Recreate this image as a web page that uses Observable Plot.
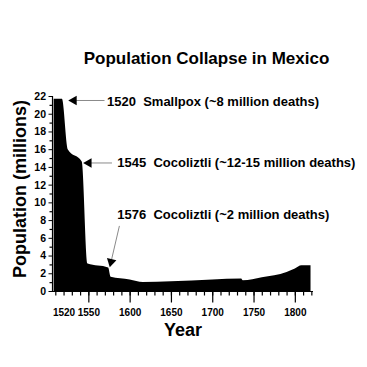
<!DOCTYPE html>
<html>
<head>
<meta charset="utf-8">
<script src="https://cdn.jsdelivr.net/npm/d3@7"></script>
<script src="https://cdn.jsdelivr.net/npm/@observablehq/plot@0.6"></script>
<style>
  html, body { margin: 0; padding: 0; background: #fff; }
  #wrap { position: relative; width: 367px; height: 367px; font-family: "Liberation Sans", Arial, sans-serif; }
  #title { position: absolute; left: 0; width: 413px; top: 49px; text-align: center; font-weight: bold; font-size: 17px; color: #000; }
  #ylab { position: absolute; left: 20px; top: 189px; transform: translate(-50%, -50%) rotate(-90deg); white-space: nowrap; font-weight: bold; font-size: 18px; color: #000; }
  #xlab { position: absolute; left: 183px; top: 330px; transform: translate(-50%, -50%); font-weight: bold; font-size: 18px; color: #000; }
  #chart { position: absolute; left: 0; top: 0; }
</style>
</head>
<body>
<div id="wrap">
  <div id="chart"></div>
  <div id="title">Population Collapse in Mexico</div>
  <div id="ylab">Population (millions)</div>
  <div id="xlab">Year</div>
</div>
<script>
// Population of Mexico (millions)
const years = [1508, 1518, 1525, 1542, 1549, 1574, 1577, 1600, 1616, 1650, 1700, 1735, 1737, 1760, 1790, 1800, 1808, 1819];
const population = [21.7, 21.7, 16.0, 14.6, 3.1, 2.65, 1.6, 1.3, 1.02, 1.1, 1.3, 1.4, 1.2, 1.55, 2.15, 2.55, 2.9, 2.9];

// x tick labels
const xTickLabels = [1520, 1550, 1600, 1650, 1700, 1750, 1800];
const xMajorTicks = [1550, 1600, 1650, 1700, 1750, 1800];
const xMinorTicks = d3.range(1510, 1821, 10);
const yLabelTicks = d3.range(0, 23, 2);
const yMinorTicks = d3.range(1, 23, 2);

// annotations
const noteText = ["1520\u00a0 Smallpox (~8 million deaths)", "1545\u00a0 Cocoliztli (~12-15 million deaths)", "1576\u00a0 Cocoliztli (~2 million deaths)"];
const noteX = [1572, 1584.5, 1584.5];
const noteY = [21.45, 14.5, 8.6];
const arrowTailX = [1569, 1578, 1587];
const arrowTailY = [21.55, 14.5, 7.4];
const arrowTipX = [1528, 1546, 1576];
const arrowTipY = [21.55, 14.5, 3.0];

const series = years.map((y, i) => ({year: y, pop: population[i]}));
const notes = noteText.map((t, i) => ({
  text: t, x: noteX[i], y: noteY[i],
  x1: arrowTailX[i], y1: arrowTailY[i], x2: arrowTipX[i], y2: arrowTipY[i]
}));

const fontFamily = '"Liberation Sans", Arial, sans-serif';

const plot = Plot.plot({
  width: 367,
  height: 367,
  marginLeft: 52,
  marginRight: 54,
  marginTop: 96,
  marginBottom: 76,
  style: {fontFamily, fontSize: "10px", fontWeight: "bold", color: "#000", background: "transparent"},
  x: {domain: [1506, 1822]},
  y: {domain: [0, 22]},
  marks: [
    Plot.areaY(series, {x: "year", y: "pop", fill: "#000", curve: "monotone-x"}),
    Plot.ruleY([0], {stroke: "#000", strokeWidth: 1.2}),
    Plot.ruleX([1506], {stroke: "#000", strokeWidth: 1.2}),
    Plot.axisX(xMinorTicks, {tickSize: 4.5, tickFormat: null, label: null, text: null, strokeWidth: 1.2}),
    Plot.axisX(xMajorTicks, {tickSize: 11.5, tickFormat: null, label: null, text: null, strokeWidth: 1.2}),
    Plot.axisX(xTickLabels, {tickSize: 0, tickPadding: 17, tickFormat: d => String(d), label: null, fontSize: 10, fontWeight: "bold"}),
    Plot.axisY(yMinorTicks, {tickSize: 2.5, tickFormat: null, text: null, label: null, strokeWidth: 1.2}),
    Plot.axisY(yLabelTicks, {tickSize: 3.5, tickPadding: 3, label: null, fontSize: 10.5, fontWeight: "bold"}),
    Plot.link(notes, {x1: "x1", y1: "y1", x2: "x2", y2: "y2", stroke: "#8a8a8a", strokeWidth: 1}),
    Plot.dot(notes, {x: "x2", y: "y2", symbol: "triangle", r: 3.6, fill: "#000", stroke: null}),
    Plot.text(notes, {x: "x", y: "y", text: "text", textAnchor: "start", fontSize: 13, fontWeight: "bold", fill: "#000"})
  ]
});
document.getElementById("chart").appendChild(plot);

// rotate arrowheads so they point along each link, using the plot's own scales
const xs = plot.scale("x"), ys = plot.scale("y");
const heads = plot.querySelectorAll("g[aria-label='dot'] path");
heads.forEach((p, i) => {
  const n = notes[i];
  const tx = xs.apply(n.x2), ty = ys.apply(n.y2);
  const sx = xs.apply(n.x1), sy = ys.apply(n.y1);
  const dx = tx - sx, dy = ty - sy, L = Math.hypot(dx, dy);
  const ux = dx / L, uy = dy / L;
  const ang = Math.atan2(dy, dx) * 180 / Math.PI + 90; // triangle points up by default
  const cx = tx - ux * 3.2, cy = ty - uy * 3.2;
  p.setAttribute("transform", `translate(${cx},${cy}) rotate(${ang})`);
});
</script>
</body>
</html>
